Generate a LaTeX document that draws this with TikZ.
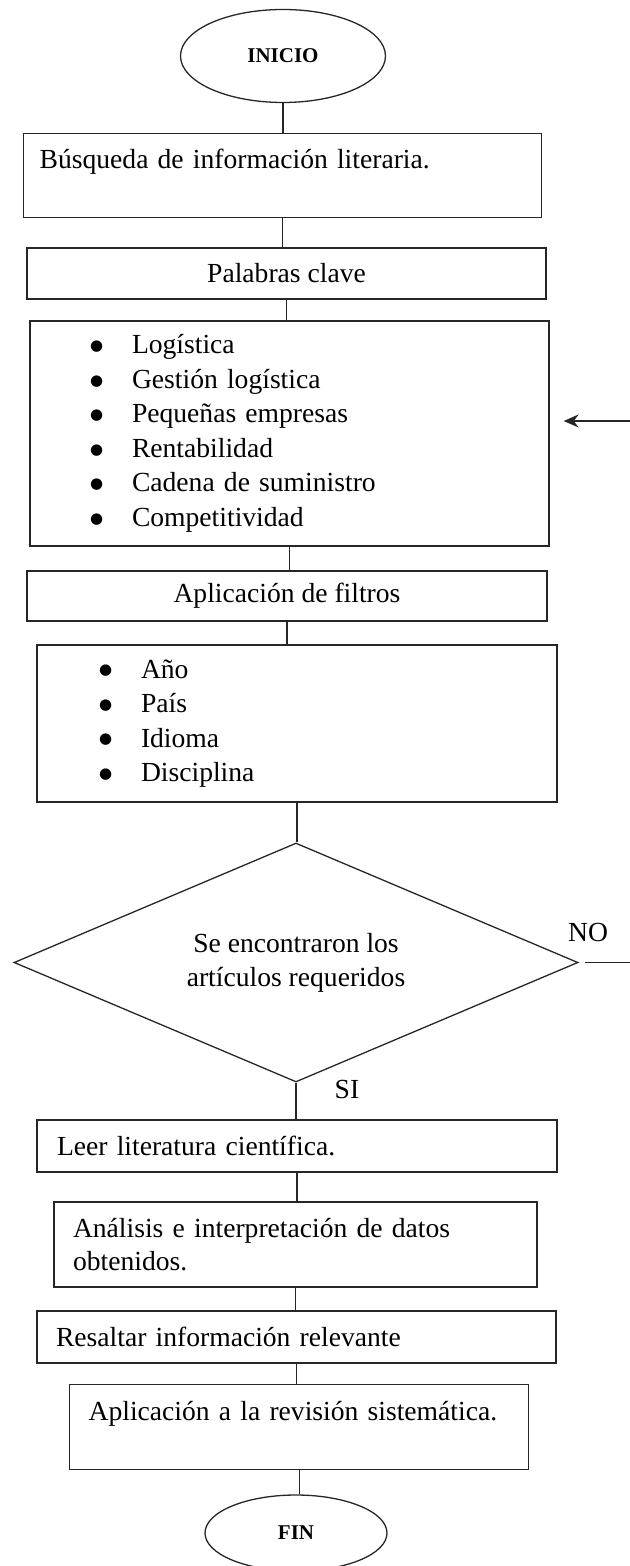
\documentclass[tikz,border=0pt]{standalone}
\usepackage{fontspec}
\setmainfont{Liberation Serif}
\newfontfamily\symfont{DejaVu Sans}
\usetikzlibrary{shapes.geometric,arrows.meta}

\newcommand{\kwitem}[1]{\makebox[21pt][l]{\raisebox{1.6pt}{\symfont\fontsize{7.5}{9}\selectfont ●}}#1}

\begin{document}
\begin{tikzpicture}[x=0.5pt, y=-0.5pt,
  every node/.style={font=\fontsize{13.8}{17}\selectfont},
  conn/.style={draw=black!85, line width=0.65pt},
  box/.style={conn, rectangle, inner sep=0pt},
  tbox/.style={box, align=left, inner xsep=#1},
  term/.style={conn, ellipse, inner sep=0pt, font=\fontsize{10.5}{12}\selectfont\bfseries},
  decision/.style={conn, diamond, aspect=2.36, inner sep=0pt, align=center}]
\useasboundingbox (0,0) rectangle (630,1566);

% Start
\node[term, minimum width=102.5pt, minimum height=46.5pt] (inicio) at (283,56) {INICIO};

% Search and keywords
\node[tbox=8pt, anchor=north west, text width=243pt, text height=17.5pt, text depth=24.5pt] (busq) at (23,133) {Búsqueda de información literaria.};
\node[box, minimum width=259.5pt, minimum height=25.5pt] (pal) at (286.5,273.5) {Palabras clave};
\node[tbox=30pt, text width=199.5pt, minimum height=112.5pt, font=\fontsize{13.8}{17.25}\selectfont] (kw) at (289.5,433.5)
  {\kwitem{Logística}\\ \kwitem{Gestión logística}\\ \kwitem{Pequeñas empresas}\\ \kwitem{Rentabilidad}\\ \kwitem{Cadena de suministro}\\ \kwitem{Competitividad}};

% Filters
\node[box, minimum width=260pt, minimum height=25pt] (fil) at (287,596) {Aplicación de filtros};
\node[tbox=31pt, text width=198pt, minimum height=78.5pt, font=\fontsize{13.8}{17.25}\selectfont] (crit) at (297,723.5)
  {\kwitem{Año}\\ \kwitem{País}\\ \kwitem{Idioma}\\ \kwitem{Disciplina}};

% Decision
\node[decision, minimum width=282pt, minimum height=119.5pt] (dec) at (296,962.5) {Se encontraron los\\artículos requeridos};
\node (no) at (588,932) {NO};
\node (si) at (347,1089) {SI};

% Reading and analysis
\node[tbox=10pt, text width=240pt, minimum height=26pt] (leer) at (297,1146) {Leer literatura científica.};
\node[tbox=9.5pt, text width=222.5pt, minimum height=42.5pt, font=\fontsize{13.8}{16.5}\selectfont] (anal) at (295.5,1244.5) {Análisis e interpretación de datos\\obtenidos.};
\node[tbox=9.5pt, text width=240.5pt, minimum height=26pt] (resal) at (296.5,1337) {Resaltar información relevante};
\node[tbox=9.5pt, anchor=north west, text width=210.5pt, text height=18pt, text depth=24.5pt] (aplic) at (69,1384) {Aplicación a la revisión sistemática.};

% End
\node[term, minimum width=91pt, minimum height=38pt] (fin) at (296,1533) {FIN};

% Main flow
\draw[conn] (inicio.south) -- (inicio.south |- busq.north);
\draw[conn] (busq.south) -- (busq.south |- pal.north);
\draw[conn] (pal.south) -- (pal.south |- kw.north);
\draw[conn] (kw.south) -- (kw.south |- fil.north);
\draw[conn] (fil.south) -- (fil.south |- crit.north);
\draw[conn] (crit.south) -- (crit.south |- dec.north);
\draw[conn] (dec.south) -- (dec.south |- leer.north);
\draw[conn] (leer.south) -- (leer.south |- anal.north);
\draw[conn] (anal.south) -- (anal.south |- resal.north);
\draw[conn] (resal.south) -- (resal.south |- aplic.north);
\draw[conn] (aplic.south) -- (aplic.south |- fin.north);

% NO branch and return
\coordinate (noout) at (630,962.5);
\draw[conn, shorten <=3pt] (dec.east) -- (noout);
\coordinate (retin) at (630,421);
\draw[conn, -{Stealth[length=7.5pt,width=6.5pt]}, shorten >=7pt] (retin) -- (retin -| kw.east);
\end{tikzpicture}
\end{document}
